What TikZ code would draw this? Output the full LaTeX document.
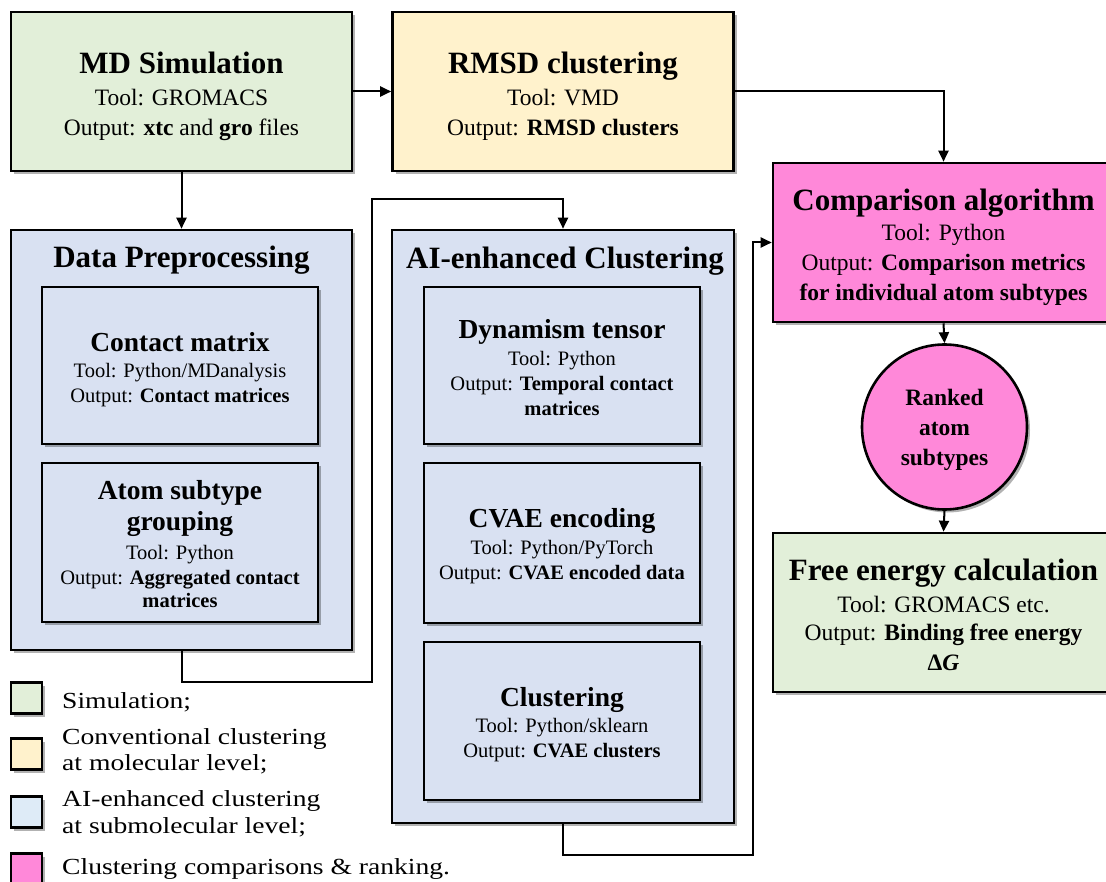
\documentclass[tikz,border=0pt]{standalone}
\usepackage{fontspec}
\setmainfont{Liberation Serif}
\newfontfamily\legfont[FakeStretch=1.2]{Liberation Serif}
\usetikzlibrary{arrows.meta,shadows}
\definecolor{cGreen}{HTML}{E2EFD9}
\definecolor{cYellow}{HTML}{FFF2CC}
\definecolor{cBlue}{HTML}{D9E1F2}
\definecolor{cLegBlue}{HTML}{DEEBF7}
\definecolor{cPink}{HTML}{FF88D9}
\newcommand\Ttl{\fontsize{31}{34}\selectfont\bfseries}
\newcommand\Bdy{\fontsize{23.5}{30}\selectfont}
\newcommand\ITtl{\fontsize{27.5}{32}\selectfont\bfseries}
\newcommand\IBdy{\fontsize{20.5}{25}\selectfont}
\begin{document}
\begin{tikzpicture}[x=1pt,y=-1pt,
  shad/.style={drop shadow={shadow xshift=3pt,shadow yshift=-3pt,opacity=0.3,fill=black}},
  box/.style={draw=black,line width=2.6pt,shad,inner sep=0pt,rectangle},
  bigbox/.style={box,minimum width=341pt,minimum height=159pt},
  inbox/.style={box,fill=cBlue,minimum width=276pt},
  bigtx/.style={align=center,inner sep=0pt,font=\Bdy},
  intx/.style={align=center,inner sep=0pt,font=\IBdy},
  legsq/.style={draw=black,line width=2.6pt,shad,minimum size=31pt,inner sep=0pt},
  legtx/.style={anchor=base west,inner sep=0pt,font=\legfont\fontsize{23}{26}\selectfont},
  conn/.style={line width=2pt,-{Triangle[length=11pt,width=10pt]}}]
\useasboundingbox (0,0) rectangle (1106,882);
\fill[white] (0,0) rectangle (1106,882);
\clip (0,0) rectangle (1106,882);

% top boxes
\node[bigbox,fill=cGreen] (md) at (181.5,91.5) {};
\node[bigtx] (mdtx) at (181.5,96.5)
  {{\Ttl MD Simulation}\\[2pt] Tool: GROMACS\\ Output: \textbf{xtc} and \textbf{gro} files};
\node[bigbox,fill=cYellow] (rmsd) at (563,91.5) {};
\node[bigtx] (rmsdtx) at (563,96.5)
  {{\Ttl RMSD clustering}\\[2pt] Tool: VMD\\ Output: \textbf{RMSD clusters}};

% data preprocessing
\node[box,fill=cBlue,minimum width=341pt,minimum height=420pt] (dp) at (181.5,440) {};
\node[font=\Ttl,inner sep=0pt] (dpt) at (181.5,260) {Data Preprocessing};
\node[inbox,minimum height=157pt] (cm) at (180,365.5) {};
\node[intx] (cmtx) at (180,369.5)
  {{\ITtl Contact matrix}\\[1pt] Tool: Python/MDanalysis\\ Output: \textbf{Contact matrices}};
\node[inbox,minimum height=159pt] (at) at (180,542.5) {};
\node[intx] (attx) at (180,544.5)
  {{\ITtl Atom subtype}\\[5pt]{\ITtl grouping}\\[4pt] Tool: Python\\ Output: \textbf{Aggregated contact}\\[-2pt] \textbf{matrices}};

% AI-enhanced clustering
\node[box,fill=cBlue,minimum width=342pt,minimum height=593pt] (ai) at (563,526.5) {};
\node[font=\Ttl,inner sep=0pt] (ait) at (565,261) {AI-enhanced Clustering};
\node[inbox,minimum height=157pt] (dyn) at (562,365.5) {};
\node[intx] (dyntx) at (562,367.5)
  {{\ITtl Dynamism tensor}\\[2pt] Tool: Python\\ Output: \textbf{Temporal contact}\\ \textbf{matrices}};
\node[inbox,minimum height=160pt] (cvae) at (562,543) {};
\node[intx] (cvaetx) at (562,546)
  {{\ITtl CVAE encoding}\\[2pt] Tool: Python/PyTorch\\ Output: \textbf{CVAE encoded data}};
\node[inbox,minimum height=158pt] (clu) at (562,721) {};
\node[intx] (clutx) at (562,725)
  {{\ITtl Clustering}\\[1pt] Tool: Python/sklearn\\ Output: \textbf{CVAE clusters}};

% right column
\node[bigbox,fill=cPink] (comp) at (943.5,242.5) {};
\node[bigtx] (comptx) at (943.5,247)
  {{\Ttl Comparison algorithm}\\[0pt] Tool: Python\\ Output: \textbf{Comparison metrics}\\ \textbf{for individual atom subtypes}};
\node[circle,draw=black,line width=2.6pt,shad,fill=cPink,minimum size=165pt,inner sep=0pt] (rank) at (944.5,427) {};
\node[align=center,inner sep=0pt,font=\Bdy\bfseries] (ranktx) at (944.5,430) {Ranked\\ atom\\ subtypes};
\node[bigbox,fill=cGreen] (fe) at (943.5,612.5) {};
\node[bigtx] (fetx) at (943.5,615)
  {{\Ttl Free energy calculation}\\[2pt] Tool: GROMACS etc.\\[-2pt] Output: \textbf{Binding free energy}\\ \textbf{Δ\textit{G}}};

% connectors
\coordinate (c2) at (372,682);
\coordinate (c3) at (372,199);
\coordinate (c4) at (753,855);
\draw[conn] (md.east) -- (rmsd.west);
\draw[conn] (rmsd.east) -| (comp.north);
\draw[conn] (md.south) -- (dp.north);
\draw[conn] (dp.south) |- (c2) -- (c3) -| (ai.north);
\draw[conn] (ai.south) |- (c4) |- (comp.west);
\draw[conn] (comp.south) -- (rank.north);
\draw[conn] (rank.south) -- (fe.north);

% legend
\node[legsq,fill=cGreen] (l1) at (26.5,698) {};
\node[legsq,fill=cYellow] (l2) at (26.5,754) {};
\node[legsq,fill=cLegBlue] (l3) at (26.5,812) {};
\node[legsq,fill=cPink] (l4) at (26.5,869) {};
\node[legtx] (t1) at (62,708) {Simulation;};
\node[legtx] (t2a) at (62,744) {Conventional clustering};
\node[legtx] (t2b) at (62,770) {at molecular level;};
\node[legtx] (t3a) at (62,806) {AI-enhanced clustering};
\node[legtx] (t3b) at (62,833) {at submolecular level;};
\node[legtx] (t4) at (62,874) {Clustering comparisons \& ranking.};
\end{tikzpicture}
\end{document}
